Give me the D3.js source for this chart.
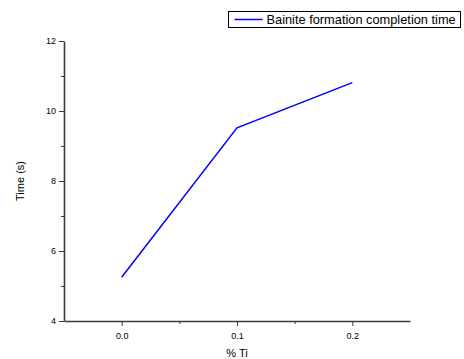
<!DOCTYPE html>
<html>
<head>
<meta charset="utf-8">
<script src="https://cdn.jsdelivr.net/npm/d3@7"></script>
<style>
  body { margin: 0; background: #fff; }
  svg { display: block; font-family: "Liberation Sans", Arial, sans-serif; }
  .tick text { font-size: 9px; fill: #000; }
  .axisText { font-size: 11px; fill: #000; }
  .legendText { font-size: 12.8px; fill: #000; }
</style>
</head>
<body>
<div id="chart"></div>
<script>
// data
var tiPercent = [0.0, 0.1, 0.2];
var completionTime = [5.25, 9.52, 10.81];
var xTicks = [0.0, 0.1, 0.2];
var xMinorTicks = [0.05, 0.15];
var yTicks = [4, 6, 8, 10, 12];
var yMinorTicks = [5, 7, 9, 11];
var seriesName = "Bainite formation completion time";

var svgWidth = 464;
var svgHeight = 359;

var margin = { top: 41, right: 54, bottom: 38, left: 64 };
var width = svgWidth - margin.left - margin.right;
var height = svgHeight - margin.top - margin.bottom;

var svg = d3.select("#chart")
    .append("svg")
    .attr("width", svgWidth)
    .attr("height", svgHeight);

var chartGroup = svg.append("g")
    .attr("transform", `translate(${margin.left}, ${margin.top})`);

var xScale = d3.scaleLinear().domain([-0.05, 0.25]).range([0, width]);
var yScale = d3.scaleLinear().domain([4, 12]).range([height, 0]);

var axisColor = "#3a3a3a";

// minor ticks first so major axes draw over them
chartGroup.append("g")
    .attr("transform", `translate(0, ${height})`)
    .call(d3.axisBottom(xScale).tickValues(xMinorTicks).tickSize(3).tickFormat(""))
    .call(g => g.select(".domain").remove())
    .call(g => g.selectAll("line").attr("stroke", axisColor));

chartGroup.append("g")
    .call(d3.axisLeft(yScale).tickValues(yMinorTicks).tickSize(3).tickFormat(""))
    .call(g => g.select(".domain").remove())
    .call(g => g.selectAll("line").attr("stroke", axisColor));

var xAxis = chartGroup.append("g")
    .attr("transform", `translate(0, ${height})`)
    .call(d3.axisBottom(xScale).tickValues(xTicks).tickSize(5).tickSizeOuter(0)
        .tickPadding(7).tickFormat(d3.format(".1f")));
xAxis.select(".domain").attr("stroke", axisColor).attr("stroke-width", 1.6);
xAxis.selectAll("line").attr("stroke", axisColor);
xAxis.selectAll("text").attr("font-family", null).attr("font-size", null);

var yAxis = chartGroup.append("g")
    .call(d3.axisLeft(yScale).tickValues(yTicks).tickSize(5).tickSizeOuter(0).tickPadding(3));
yAxis.select(".domain").attr("stroke", axisColor).attr("stroke-width", 1.6);
yAxis.selectAll("line").attr("stroke", axisColor);
yAxis.selectAll("text").attr("font-family", null).attr("font-size", null);

// the line
var points = tiPercent.map((t, i) => ({ x: t, y: completionTime[i] }));
var line = d3.line().x(d => xScale(d.x)).y(d => yScale(d.y));

chartGroup.append("path")
    .datum(points)
    .attr("fill", "none")
    .attr("stroke", "#0000ff")
    .attr("stroke-width", 1.5)
    .attr("d", line);

// axis labels
chartGroup.append("text")
    .attr("class", "axisText")
    .attr("transform", `translate(${-40}, ${height / 2}) rotate(-90)`)
    .attr("text-anchor", "middle")
    .text("Time (s)");

chartGroup.append("text")
    .attr("class", "axisText")
    .attr("x", xScale(0.1))
    .attr("y", height + 36)
    .attr("text-anchor", "middle")
    .text("% Ti");

// legend
var legend = svg.append("g").attr("transform", "translate(228.5, 11.5)");
legend.append("rect")
    .attr("width", 232)
    .attr("height", 16)
    .attr("fill", "#fff")
    .attr("stroke", "#000")
    .attr("stroke-width", 1);
legend.append("line")
    .attr("x1", 6).attr("x2", 34)
    .attr("y1", 8).attr("y2", 8)
    .attr("stroke", "#0000ff")
    .attr("stroke-width", 1.5);
legend.append("text")
    .attr("class", "legendText")
    .attr("x", 38)
    .attr("y", 12.5)
    .text(seriesName);
</script>
</body>
</html>
